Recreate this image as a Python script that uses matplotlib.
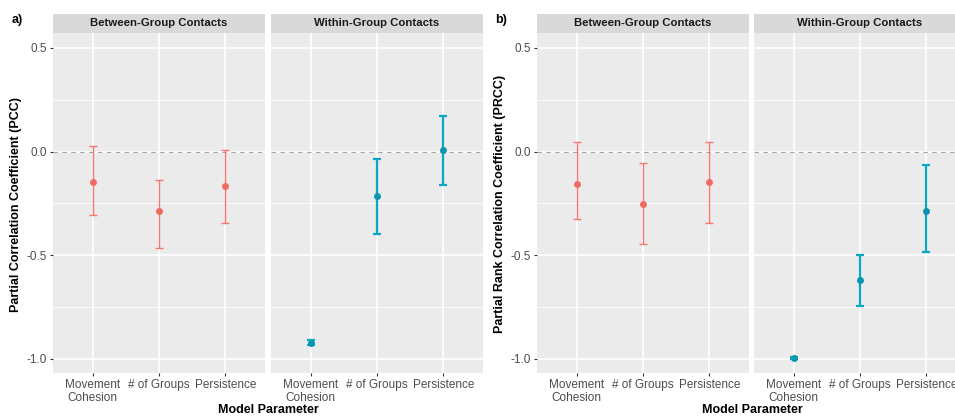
import numpy as np
import matplotlib
matplotlib.use("Agg")
import matplotlib.pyplot as plt

plt.rcParams['font.family'] = ['Liberation Sans', 'DejaVu Sans']

# categories and facets
params = ['Movement\nCohesion', '# of Groups', 'Persistence']
facets = ['Between-Group Contacts', 'Within-Group Contacts']

# a) PCC estimates with lower / upper bounds
pcc_between = [-0.149, -0.289, -0.164]
pcc_between_lo = [-0.307, -0.467, -0.344]
pcc_between_hi = [0.026, -0.135, 0.010]
pcc_within = [-0.922, -0.212, 0.010]
pcc_within_lo = [-0.935, -0.397, -0.159]
pcc_within_hi = [-0.909, -0.035, 0.170]

# b) PRCC estimates with lower / upper bounds
prcc_between = [-0.156, -0.255, -0.149]
prcc_between_lo = [-0.325, -0.448, -0.344]
prcc_between_hi = [0.047, -0.054, 0.047]
prcc_within = [-0.995, -0.620, -0.288]
prcc_within_lo = [-1.000, -0.747, -0.483]
prcc_within_hi = [-0.990, -0.500, -0.063]

RED_LINE, RED_PT = '#F8766D', '#F26B62'
TEAL_LINE, TEAL_PT = '#0AA8C4', '#0A96B2'

W, H = 955, 417
fig = plt.figure(figsize=(W / 100, H / 100), dpi=100)


def px_axes(x0, y0, w, h):
    # pixel box (top-left origin) -> figure axes
    return fig.add_axes([x0 / W, (H - y0 - h) / H, w / W, h / H])


def facet(x0, title, est, lo, hi, line_c, pt_c, lw, show_y):
    ax = px_axes(x0, 33, 212, 340)
    ax.set_facecolor('#EBEBEB')
    x = np.arange(1, len(params) + 1)
    est, lo, hi = np.array(est), np.array(lo), np.array(hi)
    ax.set_xlim(0.4, 3.6)
    ax.set_ylim(-1.068, 0.572)
    # grid
    for yv in [-0.75, -0.25, 0.25]:
        ax.axhline(yv, color='white', lw=0.6, zorder=0)
    for yv in [-1.0, -0.5, 0.0, 0.5]:
        ax.axhline(yv, color='white', lw=1.2, zorder=0)
    for xv in x:
        ax.axvline(xv, color='white', lw=1.2, zorder=0)
    ax.axhline(0, color='#A6A6A6', lw=0.8, ls=(0, (4, 4)), zorder=1)
    ax.errorbar(x, est, yerr=[est - lo, hi - est], fmt='none', ecolor=line_c,
                elinewidth=lw, capsize=3.2, capthick=lw, zorder=2)
    ax.plot(x, est, 'o', color=pt_c, ms=5, mec='none', zorder=3)
    for s in ax.spines.values():
        s.set_visible(False)
    ax.set_xticks(x)
    ax.set_xticklabels(params, fontsize=8.5, color='#4D4D4D', linespacing=1.05)
    ax.set_yticks([-1.0, -0.5, 0.0, 0.5])
    ax.tick_params(colors='#333333', length=2.5, width=0.8, pad=2,
                   labelcolor='#4D4D4D')
    if show_y:
        ax.set_yticklabels(['-1.0', '-0.5', '0.0', '0.5'], fontsize=8.5)
    else:
        ax.set_yticklabels([])
        ax.tick_params(axis='y', length=0)
    # strip
    st = px_axes(x0, 14, 212, 19)
    st.set_facecolor('#D9D9D9')
    st.set_xticks([])
    st.set_yticks([])
    for s in st.spines.values():
        s.set_visible(False)
    st.text(0.5, 0.5, title, ha='center', va='center', fontsize=8.2,
            fontweight='bold', color='#1A1A1A', transform=st.transAxes)
    return ax


# panel a
facet(53, facets[0], pcc_between, pcc_between_lo, pcc_between_hi, RED_LINE, RED_PT, 1.0, True)
facet(271, facets[1], pcc_within, pcc_within_lo, pcc_within_hi, TEAL_LINE, TEAL_PT, 1.6, False)
fig.text(17 / W, 1 - 20 / H, 'a)', fontsize=9, fontweight='bold', ha='center', va='center')
fig.text(16 / W, 1 - 204 / H, 'Partial Correlation Coefficient (PCC)', rotation=90,
         fontsize=9, fontweight='bold', ha='center', va='center')
fig.text(268 / W, 1 - 410 / H, 'Model Parameter', fontsize=9, fontweight='bold',
         ha='center', va='center')

# panel b
facet(537, facets[0], prcc_between, prcc_between_lo, prcc_between_hi, RED_LINE, RED_PT, 1.0, True)
facet(754, facets[1], prcc_within, prcc_within_lo, prcc_within_hi, TEAL_LINE, TEAL_PT, 1.6, False)
fig.text(501 / W, 1 - 20 / H, 'b)', fontsize=9, fontweight='bold', ha='center', va='center')
fig.text(500 / W, 1 - 204 / H, 'Partial Rank Correlation Coefficient (PRCC)', rotation=90,
         fontsize=9, fontweight='bold', ha='center', va='center')
fig.text(752 / W, 1 - 410 / H, 'Model Parameter', fontsize=9, fontweight='bold',
         ha='center', va='center')

fig.savefig('out.png', dpi=100)
